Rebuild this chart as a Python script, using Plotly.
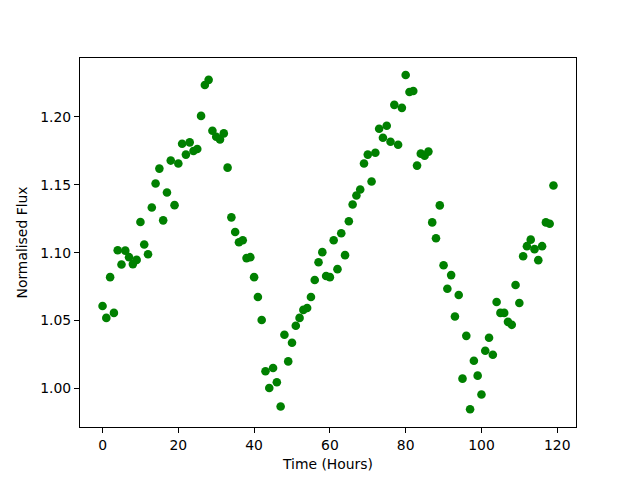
import plotly.graph_objects as go

hours = list(range(120))
flux = [
    1.0608, 1.0520, 1.0820, 1.0557, 1.1018, 1.0913, 1.1015, 1.0967, 1.0916, 1.0947,
    1.1226, 1.1060, 1.0989, 1.1333, 1.1509, 1.1619, 1.1238, 1.1443, 1.1678, 1.1350,
    1.1656, 1.1802, 1.1722, 1.1812, 1.1748, 1.1763, 1.2007, 1.2234, 1.2272, 1.1897,
    1.1853, 1.1834, 1.1878, 1.1626, 1.1260, 1.1152, 1.1077, 1.1092, 1.0960, 1.0967,
    1.0820, 1.0674, 1.0505, 1.0127, 1.0004, 1.0151, 1.0046, 0.9868, 1.0396, 1.0200,
    1.0337, 1.0462, 1.0520, 1.0579, 1.0593, 1.0674, 1.0799, 1.0930, 1.1004, 1.0828,
    1.0820, 1.1092, 1.0879, 1.1143, 1.0982, 1.1231, 1.1355, 1.1421, 1.1465, 1.1656,
    1.1722, 1.1524, 1.1736, 1.1912, 1.1846, 1.1934, 1.1817, 1.2088, 1.1795, 1.2066,
    1.2308, 1.2183, 1.2190, 1.1641, 1.1729, 1.1714, 1.1744, 1.1223, 1.1106, 1.1348,
    1.0908, 1.0735, 1.0835, 1.0530, 1.0689, 1.0073, 1.0388, 0.9848, 1.0205, 1.0095,
    0.9956, 1.0278, 1.0374, 1.0249, 1.0637, 1.0557, 1.0557, 1.0491, 1.0469, 1.0762,
    1.0630, 1.0974, 1.1048, 1.1096, 1.1026, 1.0945, 1.1048, 1.1223, 1.1213, 1.1494,
]
x_ticks = [0, 20, 40, 60, 80, 100, 120]
y_ticks = [1.00, 1.05, 1.10, 1.15, 1.20]

fig = go.Figure(go.Scatter(
    x=hours, y=flux, mode="markers",
    marker=dict(color="#008000", size=8.6, line=dict(width=0)),
))

axis_common = dict(
    showline=True, mirror=True, linecolor="black", linewidth=1,
    ticks="outside", ticklen=5, tickwidth=1, tickcolor="black",
    showgrid=False, zeroline=False,
    tickfont=dict(family="DejaVu Sans", size=13.9, color="black"),
)

fig.update_layout(
    width=640, height=480,
    margin=dict(l=72, r=72, t=50, b=61),
    paper_bgcolor="white", plot_bgcolor="white",
    showlegend=False,
    font=dict(family="DejaVu Sans", size=13.9, color="black"),
    xaxis=dict(range=[-5.95, 124.95], tickvals=x_ticks,
               title=dict(text="Time (Hours)", standoff=7,
                          font=dict(family="DejaVu Sans", size=13.9)),
               **axis_common),
    yaxis=dict(range=[0.9717, 1.2433], tickvals=y_ticks, tickformat=".2f",
               title=dict(text="Normalised Flux", standoff=9,
                          font=dict(family="DejaVu Sans", size=13.9)),
               **axis_common),
)

fig.write_html("out.html")
